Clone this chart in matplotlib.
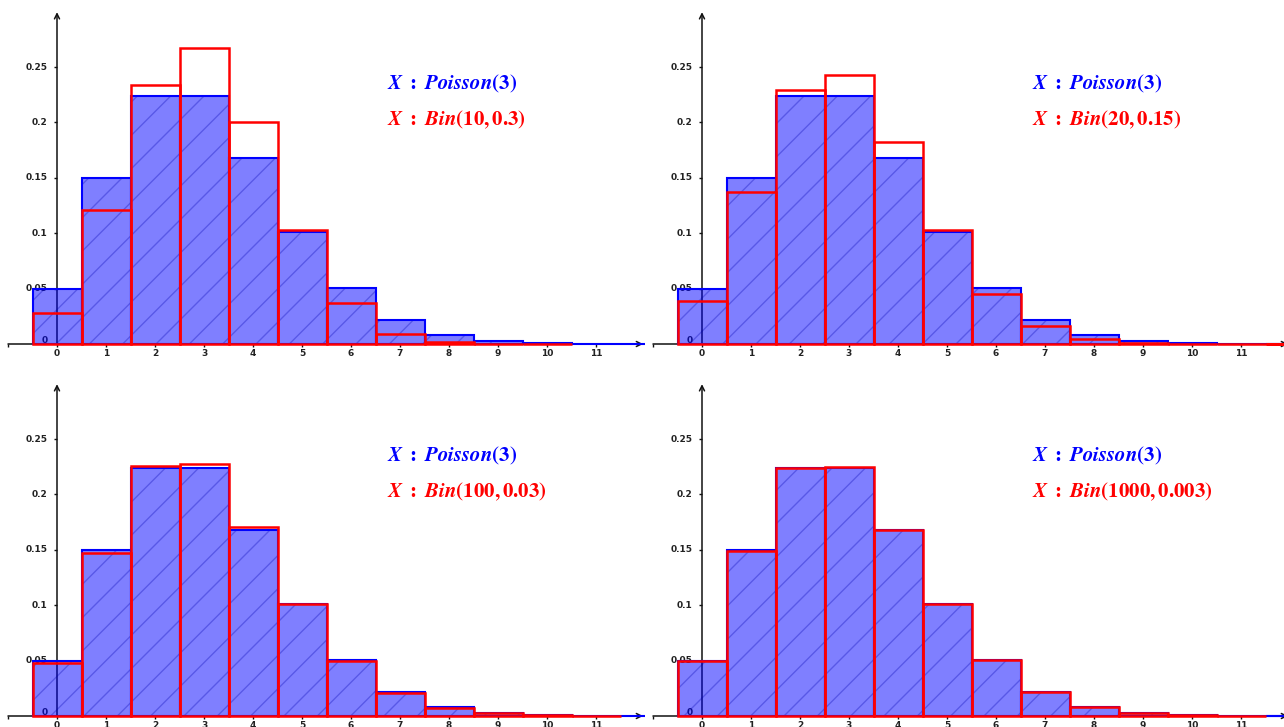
import numpy as np
import matplotlib
matplotlib.use('Agg')
import matplotlib.pyplot as plt

# probabilities P(X = k), k = 0, 1, 2, ...
poisson_3 = [0.0498, 0.1494, 0.2240, 0.2240, 0.1680, 0.1008, 0.0504,
             0.0216, 0.0081, 0.0027, 0.0008, 0.0002, 0.0001]
bin_10_03 = [0.0282, 0.1211, 0.2335, 0.2668, 0.2001, 0.1029, 0.0368,
             0.0090, 0.0014, 0.0001, 0.0000]
bin_20_015 = [0.0388, 0.1368, 0.2293, 0.2428, 0.1821, 0.1028, 0.0454,
              0.0160, 0.0046, 0.0011, 0.0002, 0.0000, 0.0000, 0.0000]
bin_100_003 = [0.0476, 0.1471, 0.2252, 0.2275, 0.1706, 0.1013, 0.0496,
               0.0206, 0.0074, 0.0023, 0.0007, 0.0002]
bin_1000_0003 = [0.0496, 0.1491, 0.2242, 0.2244, 0.1683, 0.1009, 0.0503,
                 0.0215, 0.0080, 0.0027, 0.0008, 0.0002]

poisson_label = r'$\mathbfit{X}\ \mathbf{:}\ \mathbfit{Poisson}\mathbf{(3)}$'
bin_labels = [r'$\mathbfit{X}\ \mathbf{:}\ \mathbfit{Bin}\mathbf{(10,0.3)}$',
              r'$\mathbfit{X}\ \mathbf{:}\ \mathbfit{Bin}\mathbf{(20,0.15)}$',
              r'$\mathbfit{X}\ \mathbf{:}\ \mathbfit{Bin}\mathbf{(100,0.03)}$',
              r'$\mathbfit{X}\ \mathbf{:}\ \mathbfit{Bin}\mathbf{(1000,0.003)}$']
binomials = [bin_10_03, bin_20_015, bin_100_003, bin_1000_0003]

x_ticks = list(range(-1, 12))
x_ticklabels = [str(k) for k in range(0, 12)]
y_ticks = [0.05, 0.1, 0.15, 0.2, 0.25]
y_ticklabels = ['0.05', '0.1', '0.15', '0.2', '0.25']

plt.rcParams['mathtext.fontset'] = 'stix'
plt.rcParams['hatch.linewidth'] = 1.0

W, H = 1284, 727
fig = plt.figure(figsize=(W / 100, H / 100), dpi=100)

# pixel layout of each panel: left, top, right, bottom, origin x, origin y
px_x = 49.0     # pixels per unit on x
px_y = 1108.0   # pixels per unit on y
panels = [(0, 0, 645, 363, 57, 344),
          (645, 0, 1284, 363, 702, 344),
          (0, 363, 645, 727, 57, 716),
          (645, 363, 1284, 727, 702, 716)]

for (l, t, r, b, ox, oy), binom, blabel in zip(panels, binomials, bin_labels):
    ax = fig.add_axes([l / W, (H - b) / H, (r - l) / W, (b - t) / H])
    ax.set_xlim(-(ox - l) / px_x, (r - ox) / px_x)
    ax.set_ylim(-(b - oy) / px_y, (oy - t) / px_y)
    ax.axis('off')

    # axes with arrows
    ax.annotate('', xy=(11.96, 0), xytext=(-1.0, 0),
                arrowprops=dict(arrowstyle='->', lw=1.1, color='#111111',
                                shrinkA=0, shrinkB=0, mutation_scale=9),
                annotation_clip=False, zorder=1)
    ax.annotate('', xy=(0, 0.2995), xytext=(0, 0),
                arrowprops=dict(arrowstyle='->', lw=1.1, color='#111111',
                                shrinkA=0, shrinkB=0, mutation_scale=9),
                annotation_clip=False, zorder=1)
    ax.vlines(x_ticks, -0.0028, 0, color='#111111', lw=1.0, zorder=1)
    ax.hlines(y_ticks, -0.065, 0, color='#111111', lw=1.0, zorder=1)

    for k, lab in zip(range(0, 12), x_ticklabels):
        ax.text(k, -0.0082, lab, ha='center', va='center', fontsize=6.5,
                fontweight='bold', color='#222222', zorder=1.5)
    for yv, lab in zip(y_ticks, y_ticklabels):
        ax.text(-0.19, yv, lab, ha='right', va='center', fontsize=6.5,
                fontweight='bold', color='#222222', zorder=1.5)
    ax.text(-0.19, 0.0036, '0', ha='right', va='center', fontsize=6.5,
            fontweight='bold', color='#222222', zorder=1.5)

    # Poisson(3): hatched blue bars
    ks = np.arange(len(poisson_3))
    ax.bar(ks, poisson_3, width=1.0, facecolor=(0, 0, 1, 0.5),
           edgecolor=(0.0, 0.0, 0.69, 0.3), hatch='/', linewidth=0, zorder=2)
    ax.bar(ks, poisson_3, width=1.0, fill=False, edgecolor='#0000ff',
           linewidth=1.5, zorder=2.5)

    # binomial: red outlines
    kb = np.arange(len(binom))
    ax.bar(kb, binom, width=1.0, fill=False, edgecolor='#ff0000',
           linewidth=1.8, zorder=3)

    ax.text((387 - 57) / px_x, (344 - 89) / px_y, poisson_label,
            color='#0000ff', fontsize=15, ha='left', va='baseline', zorder=4)
    ax.text((387 - 57) / px_x, (344 - 125.7) / px_y, blabel,
            color='#ff0000', fontsize=15, ha='left', va='baseline', zorder=4)

plt.savefig('out.png', dpi=100)
